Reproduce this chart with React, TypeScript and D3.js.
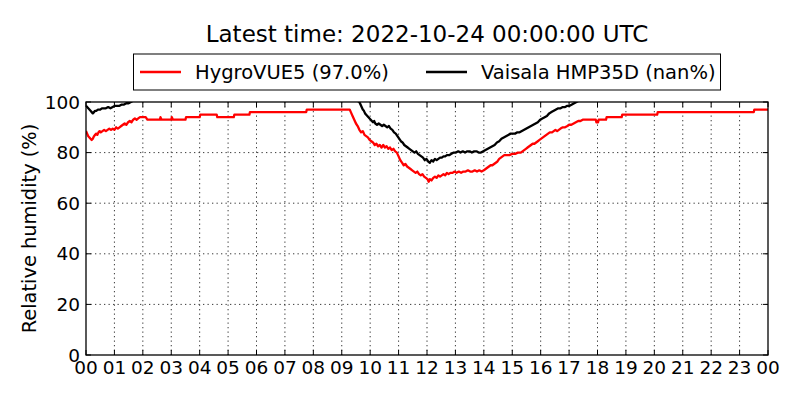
import React from "react";
import * as d3 from "d3";

// HygroVUE5 relative humidity (hours since 00 UTC, %)
const hygroHours: number[] = [
  0.0, 0.04, 0.08, 0.12, 0.16, 0.2, 0.24, 0.28, 0.32, 0.36, 0.4, 0.44, 0.48,
  0.52, 0.58, 0.64, 0.7, 0.76, 0.82, 0.88, 0.94, 1.0, 1.06, 1.12, 1.18, 1.24,
  1.3, 1.36, 1.42, 1.48, 1.54, 1.6, 1.66, 1.72, 1.78, 1.84, 1.9, 1.96, 2.1,
  2.16, 2.6, 2.62, 2.66, 3.0, 3.02, 3.06, 3.5, 3.52, 4.0, 4.02, 4.6, 4.62, 5.2,
  5.22, 5.75, 5.77, 7.75, 7.77, 9.28, 9.32, 9.38, 9.44, 9.5, 9.56, 9.62, 9.68,
  9.74, 9.8, 9.86, 9.92, 9.98, 10.04, 10.1, 10.16, 10.22, 10.28, 10.34, 10.4,
  10.46, 10.52, 10.58, 10.64, 10.7, 10.76, 10.82, 10.88, 10.94, 11.0, 11.06,
  11.12, 11.18, 11.24, 11.3, 11.36, 11.42, 11.48, 11.54, 11.6, 11.66, 11.72,
  11.78, 11.84, 11.9, 11.96, 12.02, 12.06, 12.1, 12.16, 12.22, 12.28, 12.34,
  12.4, 12.46, 12.52, 12.58, 12.64, 12.7, 12.76, 12.82, 12.9, 12.96, 13.04,
  13.12, 13.2, 13.28, 13.36, 13.44, 13.52, 13.6, 13.68, 13.76, 13.84, 13.92,
  14.0, 14.06, 14.12, 14.18, 14.24, 14.3, 14.36, 14.42, 14.48, 14.54, 14.6,
  14.66, 14.72, 14.8, 14.9, 15.0, 15.1, 15.2, 15.3, 15.36, 15.42, 15.48, 15.54,
  15.6, 15.66, 15.72, 15.78, 15.84, 15.9, 15.96, 16.02, 16.08, 16.14, 16.2,
  16.26, 16.32, 16.4, 16.46, 16.52, 16.58, 16.64, 16.7, 16.78, 16.86, 16.94,
  17.0, 17.08, 17.16, 17.24, 17.32, 17.4, 17.48, 17.94, 17.96, 18.02, 18.04,
  18.3, 18.32, 18.85, 18.87, 20.1, 20.12, 23.5, 23.52, 24.0,
];
const hygroRH: number[] = [
  88.5, 87.5, 86.5, 86, 85.5, 85, 85.5, 86.5, 87, 87.5, 87, 88, 88.5, 88, 88.5,
  89, 88.5, 89, 89.5, 89, 89.5, 89, 90, 89.5, 90, 90.5, 91, 91.5, 91, 92, 92.5,
  92, 93, 93.5, 93, 93.5, 94, 94, 94, 93, 93, 94, 93, 93, 94, 93, 93, 94, 94,
  95, 95, 94, 94, 95, 95, 96, 96, 97, 97, 96, 94.5, 93, 91.5, 90.5, 89, 88,
  88.5, 87, 86.5, 86, 85, 84.5, 84, 83, 83.5, 82.5, 83, 82, 83, 82, 82.5, 81.5,
  82, 81, 81.5, 80.5, 80, 78.5, 77, 76, 75, 75.5, 74.5, 74, 73.5, 73, 72.5, 72,
  72.5, 71.5, 71, 71.5, 70.5, 70, 69.5, 68.5, 69.5, 69, 70, 70.5, 70, 71, 70.5,
  71, 71.5, 71, 72, 71.5, 72, 72, 72.5, 72, 72.5, 72, 72.5, 72.5, 73, 72.5,
  72.5, 73, 72.5, 73, 72.5, 73, 73.5, 74, 74.5, 75, 75, 75.5, 76, 76.5, 77.5,
  78, 78.5, 79, 79, 79, 79.5, 79.5, 80, 80, 80.5, 81, 81.5, 82, 82.5, 83, 83.5,
  83.5, 84, 84.5, 85, 85.5, 86, 86.5, 87, 87.5, 88, 88, 88.5, 89, 88.5, 89,
  89.5, 90, 90, 90.5, 91, 91, 91.5, 92, 92.5, 92.5, 93, 93, 92, 92, 93, 93, 94,
  94, 95, 95, 96, 96, 97, 97,
];

// Vaisala HMP35D relative humidity (values above 100 fall outside the axes)
const hmpHours: number[] = [
  0.0, 0.04, 0.08, 0.12, 0.16, 0.2, 0.24, 0.28, 0.32, 0.36, 0.42, 0.5, 0.56,
  0.62, 0.7, 0.78, 0.86, 0.94, 1.02, 1.1, 1.18, 1.26, 1.34, 1.42, 1.5, 1.58,
  1.66, 1.8, 2.2, 3.0, 5.0, 7.0, 8.5, 9.4, 9.55, 9.62, 9.66, 9.7, 9.74, 9.78,
  9.82, 9.86, 9.9, 9.94, 9.98, 10.02, 10.06, 10.1, 10.14, 10.18, 10.24, 10.3,
  10.36, 10.42, 10.48, 10.54, 10.6, 10.66, 10.72, 10.78, 10.84, 10.9, 10.96,
  11.02, 11.08, 11.14, 11.2, 11.26, 11.32, 11.38, 11.44, 11.5, 11.56, 11.62,
  11.68, 11.74, 11.8, 11.86, 11.92, 11.98, 12.04, 12.1, 12.16, 12.22, 12.28,
  12.34, 12.4, 12.46, 12.52, 12.58, 12.64, 12.7, 12.78, 12.86, 12.94, 13.02,
  13.1, 13.18, 13.26, 13.34, 13.42, 13.5, 13.58, 13.66, 13.74, 13.82, 13.9,
  13.98, 14.06, 14.14, 14.22, 14.3, 14.38, 14.46, 14.54, 14.62, 14.7, 14.78,
  14.86, 14.94, 15.02, 15.1, 15.18, 15.26, 15.34, 15.42, 15.5, 15.58, 15.66,
  15.74, 15.82, 15.9, 15.98, 16.06, 16.14, 16.22, 16.3, 16.38, 16.46, 16.54,
  16.62, 16.7, 16.78, 16.86, 16.94, 17.02, 17.1, 17.18, 17.26, 17.34, 17.5,
];
const hmpRH: number[] = [
  98.5, 98, 97.5, 97, 96.5, 96, 95.5, 96, 96.5, 96.5, 97, 97, 97.5, 97.5, 97.5,
  98, 97.5, 98, 98.5, 98.5, 98.5, 99, 99, 99.5, 99.5, 100, 100.5, 101, 101.5,
  102, 102, 101.5, 101.5, 101, 100.5, 100, 99, 98, 97, 96.5, 95.5, 95, 94.5, 94,
  93.5, 93, 92.5, 92, 92.5, 91.5, 91, 91.5, 91, 90.5, 91, 90.5, 90, 90.5, 89.5,
  89, 88, 87.5, 86.5, 85.5, 84.5, 84, 83, 82.5, 82, 81.5, 81, 80.5, 80, 80.5,
  79.5, 79, 78.5, 78, 77, 77.5, 76.5, 76, 77, 76.5, 77.5, 77, 77.5, 78, 78,
  78.5, 78.5, 79, 79, 79.5, 80, 80, 80.5, 80, 80.5, 80, 80.5, 80.5, 80, 80.5,
  80.5, 80, 80, 80.5, 81, 81.5, 82, 82.5, 83, 84, 84.5, 85.5, 86, 86.5, 87,
  87.5, 87.5, 87.5, 88, 88, 88.5, 89, 89.5, 90, 90.5, 91, 91.5, 92, 93, 93.5,
  94, 94.5, 95.5, 96, 96.5, 97, 97.5, 97.5, 98, 98, 98.5, 98.5, 99, 99.5, 100,
  100.5, 101,
];

const hourTicks: number[] = d3.range(0, 25);
const hourLabels: string[] = [
  "00", "01", "02", "03", "04", "05", "06", "07", "08", "09", "10", "11",
  "12", "13", "14", "15", "16", "17", "18", "19", "20", "21", "22", "23", "00",
];
const rhTicks: number[] = [0, 20, 40, 60, 80, 100];

const width = 800;
const height = 400;
const margin = { top: 102, right: 32, bottom: 45, left: 86 };
const font = "'DejaVu Sans', sans-serif";

const App: React.FC = () => {
  const x = d3
    .scaleLinear()
    .domain([0, 24])
    .range([margin.left, width - margin.right]);
  const y = d3
    .scaleLinear()
    .domain([0, 100])
    .range([height - margin.bottom, margin.top]);

  const makePath = (hours: number[], vals: number[]) =>
    d3
      .line<number>()
      .x((h) => x(h))
      .y((_, i) => y(vals[i]))(hours) || "";

  const x0 = x(0);
  const x1 = x(24);
  const y0 = y(0);
  const y1 = y(100);
  const tick = 5;

  return (
    <svg
      width={width}
      height={height}
      style={{ position: "absolute", left: 0, top: 0, background: "#fff" }}
      fontFamily={font}
    >
      <defs>
        <clipPath id="plot">
          <rect x={x0} y={y1} width={x1 - x0} height={y0 - y1} />
        </clipPath>
      </defs>

      {/* grid */}
      {hourTicks.slice(1, -1).map((h) => (
        <line
          key={"gx" + h}
          x1={x(h)}
          x2={x(h)}
          y1={y1}
          y2={y0}
          stroke="#222"
          strokeWidth={0.9}
          strokeDasharray="1.3,3.2"
        />
      ))}
      {rhTicks.slice(1, -1).map((v) => (
        <line
          key={"gy" + v}
          x1={x0}
          x2={x1}
          y1={y(v)}
          y2={y(v)}
          stroke="#222"
          strokeWidth={0.9}
          strokeDasharray="1.3,3.2"
        />
      ))}

      {/* series */}
      <g clipPath="url(#plot)" fill="none" strokeWidth={2.3} strokeLinejoin="round">
        <path d={makePath(hygroHours, hygroRH)} stroke="#ff0000" />
        <path d={makePath(hmpHours, hmpRH)} stroke="#000000" />
      </g>

      {/* ticks, inside on all four sides */}
      {hourTicks.map((h) => (
        <g key={"tx" + h} stroke="#000" strokeWidth={1}>
          <line x1={x(h)} x2={x(h)} y1={y0} y2={y0 - tick} />
          <line x1={x(h)} x2={x(h)} y1={y1} y2={y1 + tick} />
        </g>
      ))}
      {rhTicks.map((v) => (
        <g key={"ty" + v} stroke="#000" strokeWidth={1}>
          <line x1={x0} x2={x0 + tick} y1={y(v)} y2={y(v)} />
          <line x1={x1} x2={x1 - tick} y1={y(v)} y2={y(v)} />
        </g>
      ))}

      {/* frame */}
      <rect
        x={x0}
        y={y1}
        width={x1 - x0}
        height={y0 - y1}
        fill="none"
        stroke="#000"
        strokeWidth={1.3}
      />

      {/* tick labels */}
      {hourTicks.map((h, i) => (
        <text
          key={"lx" + h}
          x={x(h)}
          y={y0 + 19}
          textAnchor="middle"
          fontSize={18.5}
        >
          {hourLabels[i]}
        </text>
      ))}
      {rhTicks.map((v) => (
        <text
          key={"ly" + v}
          x={x0 - 6}
          y={y(v)}
          dy="0.36em"
          textAnchor="end"
          fontSize={18.5}
        >
          {v}
        </text>
      ))}

      {/* y label */}
      <text
        transform={`translate(36,${(y0 + y1) / 2}) rotate(-90)`}
        textAnchor="middle"
        fontSize={19.4}
      >
        Relative humidity (%)
      </text>

      {/* title */}
      <text x={(x0 + x1) / 2} y={42} textAnchor="middle" fontSize={23}>
        Latest time: 2022-10-24 00:00:00 UTC
      </text>

      {/* legend */}
      <g>
        <rect
          x={133.5}
          y={54}
          width={587}
          height={36}
          fill="#fff"
          stroke="#000"
          strokeWidth={1}
        />
        <line x1={140} x2={181} y1={72} y2={72} stroke="#ff0000" strokeWidth={2.3} />
        <text x={195} y={79} fontSize={19.5}>
          HygroVUE5 (97.0%)
        </text>
        <line x1={426} x2={467} y1={72} y2={72} stroke="#000" strokeWidth={2.3} />
        <text x={481} y={79} fontSize={19.5}>
          Vaisala HMP35D (nan%)
        </text>
      </g>
    </svg>
  );
};

export default App;
